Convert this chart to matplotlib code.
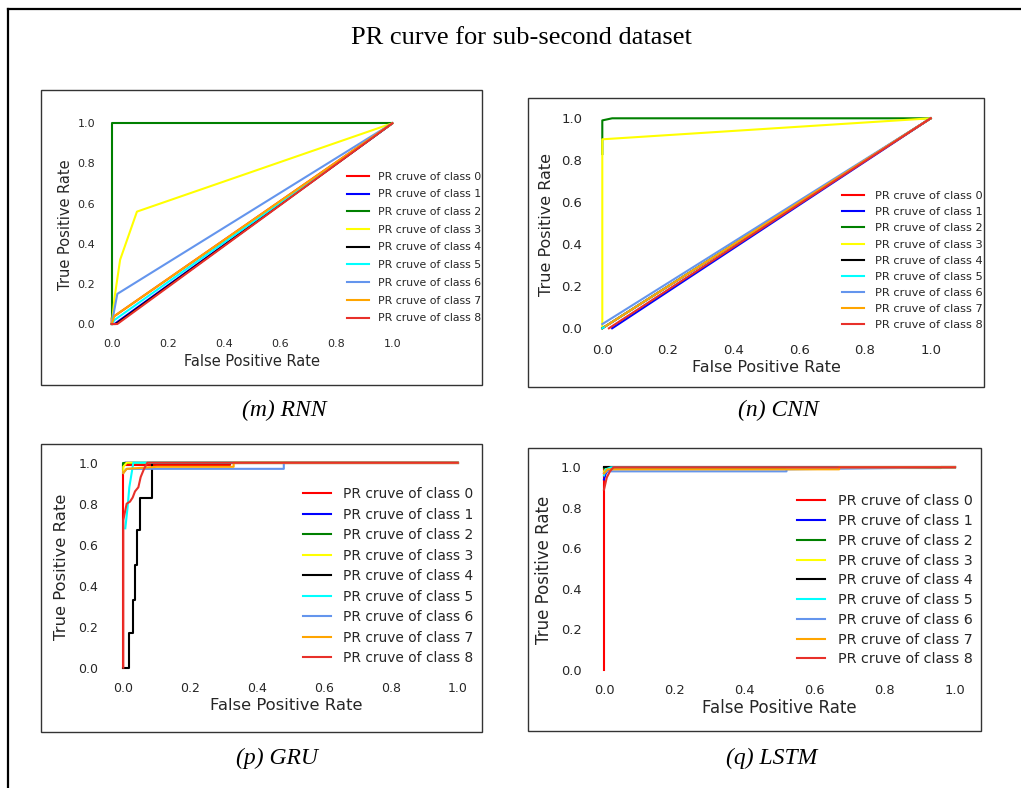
import matplotlib
matplotlib.use("Agg")
import matplotlib.pyplot as plt
from matplotlib.lines import Line2D
from matplotlib.patches import Rectangle

# ---------------- data ----------------
class_labels = [f"PR cruve of class {i}" for i in range(9)]
class_colors = ["red", "blue", "green", "yellow", "black", "cyan",
                "cornflowerblue", "orange", "#e8302a"]
panel_titles = ["(m) RNN", "(n) CNN", "(p) GRU", "(q) LSTM"]
tick_values = [0.0, 0.2, 0.4, 0.6, 0.8, 1.0]
tick_labels = ["0.0", "0.2", "0.4", "0.6", "0.8", "1.0"]

rnn_fpr = [[0, 0, 1], [0, 0.01, 1], [0, 0, 1], [0, 0.005, 0.01, 0.03, 0.09, 1],
           [0, 0.015, 1], [0, 0.01, 1], [0, 0.02, 1], [0, 0.01, 1], [0, 0.02, 1]]
rnn_tpr = [[0, 0.03, 1], [0, 0, 1], [0, 1, 1], [0, 0.06, 0.13, 0.32, 0.56, 1],
           [0, 0, 1], [0, 0.02, 1], [0, 0.15, 1], [0, 0.04, 1], [0, 0, 1]]

cnn_fpr = [[0, 1], [0.03, 1], [0, 0, 0.03, 1], [0, 0, 1],
           [0, 1], [0, 1], [0, 1], [0.01, 1], [0.02, 1]]
cnn_tpr = [[0, 1], [0, 1], [0.83, 0.99, 1, 1], [0, 0.9, 1],
           [0, 1], [0, 1], [0.02, 1], [0.01, 1], [0, 1]]

gru_fpr = [[0, 0, 0.32, 0.32, 1],
           [0, 0.005, 1],
           [0, 0, 1],
           [0, 0, 0.01, 1],
           [0, 0.016, 0.016, 0.028, 0.028, 0.035, 0.035, 0.04, 0.04, 0.049, 0.049, 0.085, 0.085, 1],
           [0.006, 0.013, 0.018, 0.025, 0.03, 1],
           [0, 0.01, 0.48, 0.48, 1],
           [0, 0.01, 0.1, 0.33, 0.33, 1],
           [0, 0, 0.005, 0.01, 0.02, 0.028, 0.035, 0.045, 0.052, 0.062, 0.072, 1]]
gru_tpr = [[0, 0.99, 0.99, 1, 1],
           [0.99, 1, 1],
           [0.97, 1, 1],
           [0.95, 0.98, 1, 1],
           [0, 0, 0.17, 0.17, 0.33, 0.33, 0.5, 0.5, 0.67, 0.67, 0.83, 0.83, 1, 1],
           [0.68, 0.785, 0.88, 0.95, 1, 1],
           [0.95, 0.97, 0.97, 1, 1],
           [0.95, 0.97, 0.98, 0.98, 1, 1],
           [0, 0.72, 0.76, 0.8, 0.81, 0.83, 0.86, 0.88, 0.93, 0.97, 1, 1]]

lstm_fpr = [[0, 0, 1], [0, 0.005, 0.02, 1], [0, 0.96, 0.96, 1], [0, 0.01, 1],
            [0, 1], [0, 0.005, 0.02, 1], [0, 0.01, 0.52, 0.52, 1],
            [0, 0.01, 0.67, 0.67, 1], [0, 0.008, 0.017, 0.027, 1]]
lstm_tpr = [[0, 1, 1], [0.94, 0.97, 1, 1], [0.995, 0.995, 1, 1], [0.98, 1, 1],
            [1, 1], [0.96, 0.99, 1, 1], [0.97, 0.98, 0.98, 0.99, 1],
            [0.97, 0.99, 0.99, 1, 1], [0.89, 0.95, 0.98, 1, 1]]

all_fpr = [rnn_fpr, cnn_fpr, gru_fpr, lstm_fpr]
all_tpr = [rnn_tpr, cnn_tpr, gru_tpr, lstm_tpr]

# ---------------- layout (pixels) ----------------
W, H = 1021, 788
fig = plt.figure(figsize=(W / 100, H / 100), dpi=100)
fig.patch.set_facecolor("white")

def fx(px):
    return px / W

def fy(py):
    return 1 - py / H

TXT = "#262626"
panels = [
    dict(box=(41, 90, 482, 385), x0=111.7, x1=392.3, y0=324.0, y1=123.3,
         tfs=8.0, lfs=10.5, gfs=7.8, gx=347, g1=173.3, g9=321.7,
         xt=343.3, yt=95.0, xl=(252, 362), yl=(65, 225), cap=(284, 410)),
    dict(box=(528, 98, 984, 387), x0=602.3, x1=930.7, y0=328.3, y1=118.3,
         tfs=9.5, lfs=11.5, gfs=8.2, gx=841.7, g1=190.7, g9=330.7,
         xt=349.0, yt=582.3, xl=(766, 367.7), yl=(546.7, 225), cap=(778, 410)),
    dict(box=(41, 444, 482, 732), x0=123.3, x1=457.7, y0=667.7, y1=462.7,
         tfs=9.0, lfs=11.8, gfs=9.9, gx=303, g1=495.0, g9=657.3,
         xt=686.7, yt=98.3, xl=(286.7, 705.7), yl=(61.7, 566.7), cap=(276.7, 758)),
    dict(box=(528, 448, 981, 731), x0=604.0, x1=955.0, y0=670.0, y1=467.3,
         tfs=9.4, lfs=12.0, gfs=10.3, gx=796.7, g1=500.0, g9=660.7,
         xt=689.3, yt=581.7, xl=(779, 707.7), yl=(544.3, 570), cap=(771.7, 758)),
]

# outer border (only left and top edges visible)
fig.add_artist(Line2D([fx(7.5), fx(7.5)], [fy(9), 0], transform=fig.transFigure,
                      color="black", lw=1.6))
fig.add_artist(Line2D([fx(7.5), 1], [fy(9), fy(9)], transform=fig.transFigure,
                      color="black", lw=1.6))

fig.text(fx(521), fy(38), "PR curve for sub-second dataset", ha="center", va="center",
         fontsize=19, family="Liberation Serif", color="black")

M = 0.05
for i, p in enumerate(panels):
    l, t, r, b = p["box"]
    fig.add_artist(Rectangle((fx(l), fy(b)), fx(r) - fx(l), fy(t) - fy(b),
                             transform=fig.transFigure, fill=False,
                             edgecolor="#333333", lw=1.0))
    sx = p["x1"] - p["x0"]
    sy = p["y0"] - p["y1"]
    ax_l = p["x0"] - M * sx
    ax_r = p["x1"] + M * sx
    ax_b = p["y0"] + M * sy
    ax_t = p["y1"] - M * sy
    ax = fig.add_axes([fx(ax_l), fy(ax_b), fx(ax_r) - fx(ax_l), fy(ax_t) - fy(ax_b)])
    ax.set_xlim(-M, 1 + M)
    ax.set_ylim(-M, 1 + M)
    for s in ax.spines.values():
        s.set_visible(False)
    ax.set_facecolor("white")

    for k in range(9):
        ax.plot(all_fpr[i][k], all_tpr[i][k], color=class_colors[k], lw=1.5,
                label=class_labels[k])

    fs_px = p["tfs"] / 0.72
    xpad = (p["xt"] - ax_b - 0.395 * fs_px) * 0.72
    ypad = (ax_l - p["yt"]) * 0.72
    ax.set_xticks(tick_values)
    ax.set_xticklabels(tick_labels)
    ax.set_yticks(tick_values)
    ax.set_yticklabels(tick_labels)
    ax.tick_params(axis="x", length=0, pad=xpad, labelsize=p["tfs"], labelcolor=TXT)
    ax.tick_params(axis="y", length=0, pad=ypad, labelsize=p["tfs"], labelcolor=TXT)

    ax.set_xlabel("False Positive Rate", fontsize=p["lfs"], color=TXT)
    ax.set_ylabel("True Positive Rate", fontsize=p["lfs"], color=TXT)
    ax.xaxis.label.set_va("center")
    ax.yaxis.label.set_va("center")
    ax.xaxis.set_label_coords(fx(p["xl"][0]), fy(p["xl"][1]), transform=fig.transFigure)
    ax.yaxis.set_label_coords(fx(p["yl"][0]), fy(p["yl"][1]), transform=fig.transFigure)

    g_px = p["gfs"] / 0.72
    spacing = (p["g9"] - p["g1"]) / 8
    ls = max((spacing - g_px * 1.0) / g_px, 0.1)
    leg = ax.legend(loc="center left",
                    bbox_to_anchor=(fx(p["gx"]), fy((p["g1"] + p["g9"]) / 2)),
                    bbox_transform=fig.transFigure, frameon=False, borderpad=0,
                    borderaxespad=0, handlelength=2.0, handletextpad=0.9,
                    labelspacing=ls, fontsize=p["gfs"])
    for txt in leg.get_texts():
        txt.set_color(TXT)

    fig.text(fx(p["cap"][0]), fy(p["cap"][1]), panel_titles[i], ha="center",
             va="center", fontsize=17, family="Liberation Serif", style="italic",
             color="black")

fig.savefig("out.png", dpi=100, facecolor="white")
